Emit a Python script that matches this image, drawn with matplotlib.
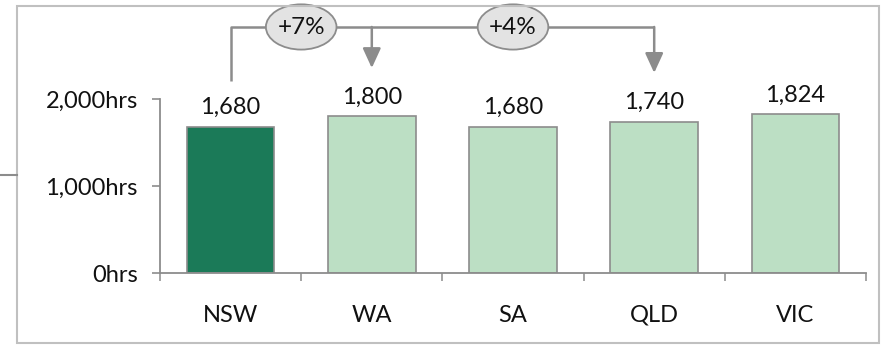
import matplotlib
matplotlib.use("Agg")
import matplotlib.pyplot as plt
from matplotlib.patches import Ellipse, Rectangle
from matplotlib.lines import Line2D

categories = ["NSW", "WA", "SA", "QLD", "VIC"]
values = [1680, 1800, 1680, 1740, 1824]
value_labels = ["1,680", "1,800", "1,680", "1,740", "1,824"]
ytick_values = [0, 1000, 2000]
ytick_labels = ["0hrs", "1,000hrs", "2,000hrs"]
changes = [("+7%", 0, 1), ("+4%", 1, 3)]

plt.rcParams['font.family'] = ['Lato', 'DejaVu Sans']
FS = 17

W, H = 881, 345
fig = plt.figure(figsize=(W / 100, H / 100), dpi=100)

# axes placement in pixels
left, right, bottom_px, top_px = 160, 866, 273, 6
ax = fig.add_axes([left / W, (H - bottom_px) / H, (right - left) / W, (bottom_px - top_px) / H])
ax.patch.set_alpha(0)
ymax = (bottom_px - top_px) / 87 * 1000
ax.set_xlim(-0.5, len(categories) - 0.5)
ax.set_ylim(0, ymax)

dark = "#1b7a58"
light = "#bcdfc4"
edge = "#8c8c8c"
colors = [dark] + [light] * (len(categories) - 1)
xs = list(range(len(categories)))
ax.bar(xs, values, width=0.62, color=colors, edgecolor=edge, linewidth=1.2, zorder=2)

for x, v, lab in zip(xs, values, value_labels):
    ax.text(x, v + 100, lab, ha="center", va="bottom", fontsize=FS, color="#111111")

for s in ["top", "right"]:
    ax.spines[s].set_visible(False)
ax.spines["left"].set_bounds(0, 2000)
for s in ["left", "bottom"]:
    ax.spines[s].set_color("#8c8c8c")
    ax.spines[s].set_linewidth(1.3)

ax.set_yticks(ytick_values)
ax.set_yticklabels(ytick_labels, fontsize=FS, color="#111111")
ax.tick_params(axis="y", direction="out", length=6, width=1.2, color="#8c8c8c", pad=10)

ax.set_xticks(xs)
ax.set_xticklabels(categories, fontsize=FS, color="#111111")
ax.tick_params(axis="x", which="major", length=0, pad=23)
ax.set_xticks([i - 0.5 for i in range(len(categories) + 1)], minor=True)
ax.tick_params(axis="x", which="minor", direction="out", length=6, width=1.1, color="#8c8c8c")

# annotation brackets
line_y = 2828
gray = "#8c8c8c"
for txt, a, b in changes:
    start_y = values[a] + 527 if a == 0 else line_y
    ax.plot([a, a, b], [start_y, line_y, line_y], color=gray, lw=1.8, zorder=3, solid_capstyle="butt")
    tip = values[b] + 556 if b == 1 else values[b] + 560
    ax.annotate("", xy=(b, tip), xytext=(b, line_y),
                arrowprops=dict(arrowstyle="-|>,head_length=1.2,head_width=0.55", color=gray, lw=1.8,
                                shrinkA=0, shrinkB=0), zorder=3)
    cx = (a + b) / 2
    ax.add_patch(Ellipse((cx, line_y), width=0.5, height=520, facecolor="#e3e3e3",
                         edgecolor=gray, lw=1.3, zorder=4, clip_on=False))
    ax.text(cx, line_y - 10, txt, ha="center", va="center", fontsize=FS + 0.5, color="#111111", zorder=5)

# outer frame and stub
fig.add_artist(Rectangle((17 / W, 2 / H), (879 - 17) / W, (339 - 2) / H, transform=fig.transFigure,
                         fill=False, edgecolor="#c0c0c0", lw=1.5))
fig.add_artist(Line2D([0, 17 / W], [(H - 175) / H] * 2, transform=fig.transFigure, color="#8c8c8c", lw=1.5))

fig.savefig("out.png", dpi=100)
